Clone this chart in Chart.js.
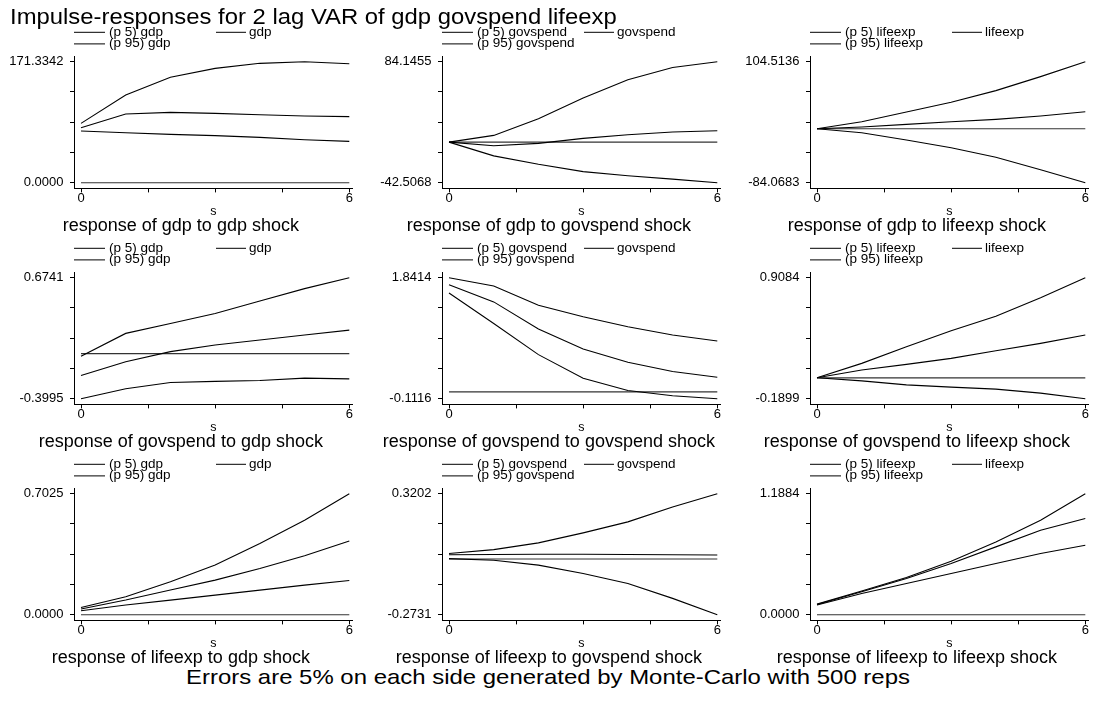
<!DOCTYPE html>
<html lang="en">
<head>
<meta charset="utf-8">
<title>Impulse-responses</title>
<script src="https://cdn.jsdelivr.net/npm/chart.js"></script>
<style>
  html, body { margin: 0; padding: 0; background: #fff; overflow: hidden; }
  #page { position: relative; width: 1096px; height: 702px; overflow: hidden;
          font-family: "Liberation Sans", Arial, sans-serif; color: #000; }
  .panel { position: absolute; width: 360px; height: 240px; }
  #title { position: absolute; left: 10px; top: 5.5px; font-size: 22px; line-height: 22px;
           white-space: nowrap; transform-origin: 0 50%; transform: scaleX(1.084); z-index: 2; }
  #note { position: absolute; left: 0; width: 1096px; top: 666px; text-align: center;
          font-size: 21px; line-height: 22px; white-space: nowrap; transform: scaleX(1.14); }
</style>
</head>
<body>
<div id="page">
  <div id="title">Impulse-responses for 2 lag VAR of gdp govspend lifeexp</div>
  <div id="note">Errors are 5% on each side generated by Monte-Carlo with 500 reps</div>
</div>
<script>
// step axis and variable names
const steps = [0, 1, 2, 3, 4, 5, 6];
const vars = ['gdp', 'govspend', 'lifeexp'];

// response of gdp
const gdpToGdpP5 = [73.2, 70.8, 68.4, 66.6, 64.2, 60.9, 58.5];
const gdpToGdpIrf = [77.9, 97.2, 99.6, 98.2, 96.3, 94.4, 93.5];
const gdpToGdpP95 = [84.0, 124.1, 149.2, 161.9, 169.0, 171.3342, 168.5];

const gdpToGovP5 = [0, -14.4, -23.2, -30.9, -35.2, -38.7, -42.5068];
const gdpToGovIrf = [0, -3.8, -1.3, 3.9, 7.7, 10.5, 11.9];
const gdpToGovP95 = [0, 7.0, 24.4, 46.1, 65.2, 78.1, 84.1455];

const gdpToLifeP5 = [0, -6.1, -17.5, -29.5, -44.5, -63.8, -84.0683];
const gdpToLifeIrf = [0, 2.7, 6.9, 11.0, 14.7, 19.9, 26.6];
const gdpToLifeP95 = [0, 11.0, 26.1, 41.2, 59.4, 81.2, 104.5136];

// response of govspend
const govToGdpP5 = [-0.3995, -0.311, -0.255, -0.246, -0.238, -0.217, -0.223];
const govToGdpIrf = [-0.194, -0.071, 0.018, 0.077, 0.121, 0.165, 0.209];
const govToGdpP95 = [-0.023, 0.180, 0.268, 0.356, 0.468, 0.577, 0.6741];

const govToGovP5 = [1.595, 1.103, 0.600, 0.220, 0.022, -0.063, -0.1116];
const govToGovIrf = [1.729, 1.451, 1.012, 0.691, 0.477, 0.327, 0.236];
const govToGovP95 = [1.8414, 1.708, 1.397, 1.210, 1.050, 0.916, 0.820];

const govToLifeP5 = [0, -0.028, -0.064, -0.085, -0.103, -0.139, -0.1899];
const govToLifeIrf = [0, 0.071, 0.122, 0.176, 0.245, 0.312, 0.388];
const govToLifeP95 = [0, 0.131, 0.281, 0.426, 0.558, 0.727, 0.9084];

// response of lifeexp
const lifeToGdpP5 = [0.023, 0.056, 0.085, 0.114, 0.143, 0.172, 0.199];
const lifeToGdpIrf = [0.033, 0.085, 0.143, 0.201, 0.268, 0.342, 0.428];
const lifeToGdpP95 = [0.042, 0.104, 0.191, 0.288, 0.413, 0.548, 0.7025];

const lifeToGovP5 = [0.002, -0.006, -0.030, -0.071, -0.120, -0.193, -0.2731];
const lifeToGovIrf = [0.021, 0.022, 0.023, 0.023, 0.022, 0.021, 0.020];
const lifeToGovP95 = [0.027, 0.046, 0.079, 0.128, 0.182, 0.255, 0.3202];

const lifeToLifeP5 = [0.095, 0.209, 0.307, 0.405, 0.503, 0.601, 0.682];
const lifeToLifeIrf = [0.101, 0.225, 0.356, 0.503, 0.666, 0.829, 0.944];
const lifeToLifeP95 = [0.104, 0.232, 0.366, 0.526, 0.715, 0.927, 1.1884];

// y axis end labels, row by row
const yLowLabels = [0.0000, -42.5068, -84.0683, -0.3995, -0.1116, -0.1899, 0.0000, -0.2731, 0.0000];
const yHighLabels = [171.3342, 84.1455, 104.5136, 0.6741, 1.8414, 0.9084, 0.7025, 0.3202, 1.1884];
const xTickValues = [0, 1.5, 3, 4.5, 6];

const panels = [
  [gdpToGdpP5, gdpToGdpIrf, gdpToGdpP95],
  [gdpToGovP5, gdpToGovIrf, gdpToGovP95],
  [gdpToLifeP5, gdpToLifeIrf, gdpToLifeP95],
  [govToGdpP5, govToGdpIrf, govToGdpP95],
  [govToGovP5, govToGovIrf, govToGovP95],
  [govToLifeP5, govToLifeIrf, govToLifeP95],
  [lifeToGdpP5, lifeToGdpIrf, lifeToGdpP95],
  [lifeToGovP5, lifeToGovIrf, lifeToGovP95],
  [lifeToLifeP5, lifeToLifeIrf, lifeToLifeP95]
];

const FONT = '"Liberation Sans", Arial, sans-serif';
Chart.defaults.font.family = FONT;
Chart.defaults.color = '#000';

// two-column legend above each plot: p5 | mean, then p95
const stataLegend = {
  id: 'stataLegend',
  afterDraw(chart) {
    const ctx = chart.ctx;
    const spots = [[74, 105, 109, 31.8], [216, 246, 249, 31.8], [74, 105, 109, 43.4]];
    ctx.save();
    ctx.font = '13.5px ' + FONT;
    ctx.textBaseline = 'middle';
    ctx.fillStyle = '#000';
    chart.data.datasets.slice(0, 3).forEach((ds, i) => {
      const [x0, x1, tx, y] = spots[i];
      ctx.strokeStyle = ds.borderColor;
      ctx.lineWidth = 1;
      ctx.beginPath();
      ctx.moveTo(x0, y + 0.5);
      ctx.lineTo(x1, y + 0.5);
      ctx.stroke();
      ctx.fillText(ds.label, tx, y);
    });
    ctx.restore();
  }
};

const page = document.getElementById('page');

panels.forEach((series, k) => {
  const row = Math.floor(k / 3), col = k % 3;
  const imp = vars[col], resp = vars[row];
  const lo = yLowLabels[k], hi = yHighLabels[k], span = hi - lo;

  const canvas = document.createElement('canvas');
  canvas.className = 'panel';
  canvas.width = 360;
  canvas.height = 240;
  canvas.style.left = (col * 368) + 'px';
  canvas.style.top = (row * 215.8) + 'px';
  page.appendChild(canvas);

  const line = (label, data, color, width) => ({
    label, data, borderColor: color, borderWidth: width,
    pointRadius: 0, tension: 0, fill: false
  });

  new Chart(canvas, {
    type: 'line',
    data: {
      labels: steps,
      datasets: [
        line('(p 5) ' + imp, series[0], '#000', 1.1),
        line(imp, series[1], '#000', 1.1),
        line('(p 95) ' + imp, series[2], '#000', 1.1),
        line('', steps.map(() => 0), '#333', 1.2)
      ]
    },
    options: {
      responsive: false,
      animation: false,
      events: [],
      layout: { padding: { left: 9, right: 7.3, top: 56.5, bottom: 2.8 } },
      plugins: {
        legend: { display: false },
        tooltip: { enabled: false },
        title: {
          display: true,
          position: 'bottom',
          text: 'response of ' + resp + ' to ' + imp + ' shock',
          font: { size: 18, weight: 'normal', lineHeight: 1.2 },
          padding: 0,
          color: '#000'
        }
      },
      scales: {
        x: {
          type: 'linear',
          min: -7 / 268.3 * 6,
          max: 6 + 3.4 / 268.3 * 6,
          afterFit: s => { s.height = 27.2; },
          afterBuildTicks: s => { s.ticks = xTickValues.map(v => ({ value: v })); },
          ticks: {
            autoSkip: false, maxRotation: 0, padding: 0.6,
            font: { size: 13, lineHeight: 0.8 },
            callback: v => (v === 0 || v === 6) ? String(v) : ''
          },
          grid: { drawOnChartArea: false, drawTicks: true, tickLength: 4, color: '#000', lineWidth: 1 },
          border: { display: true, color: '#000', width: 1 },
          title: { display: true, text: 's', font: { size: 12.5, lineHeight: 0.8 }, padding: { top: 0, bottom: -0.8 } }
        },
        y: {
          min: lo - 5.7 / 121.6 * span,
          max: hi + 5.2 / 121.6 * span,
          afterFit: s => { s.width = 65; },
          afterBuildTicks: s => {
            s.ticks = [0, 1, 2, 3, 4].map(i => ({ value: lo + span * i / 4 }));
          },
          ticks: {
            autoSkip: false, padding: 6.5,
            font: { size: 13 },
            callback: (v, i) => (i === 0 || i === 4) ? v.toFixed(4) : ''
          },
          grid: { drawOnChartArea: false, drawTicks: true, tickLength: 4, color: '#000', lineWidth: 1 },
          border: { display: true, color: '#000', width: 1 }
        }
      }
    },
    plugins: [stataLegend]
  });
});
</script>
</body>
</html>
